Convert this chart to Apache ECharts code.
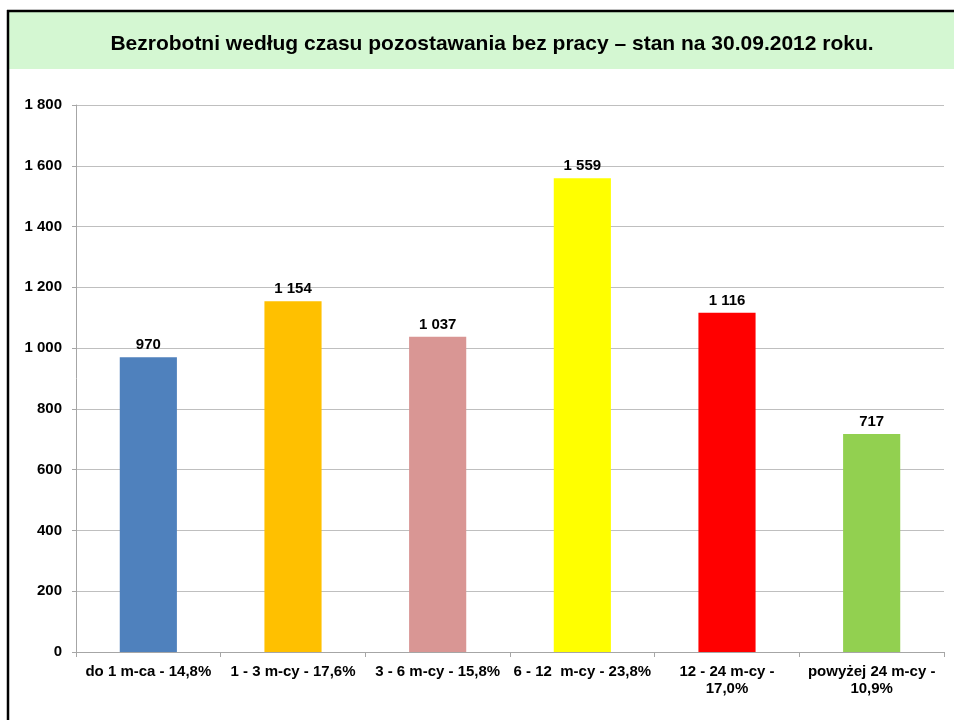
<!DOCTYPE html>
<html>
<head>
<meta charset="utf-8">
<script src="https://cdn.jsdelivr.net/npm/echarts@6/dist/echarts.min.js"></script>
<style>
html,body{margin:0;padding:0;background:#fff;}
#chart{width:954px;height:720px;}
</style>
</head>
<body>
<div id="chart"></div>
<script>
const titleText = 'Bezrobotni według czasu pozostawania bez pracy – stan na 30.09.2012 roku.';
const categories = ['do 1 m-ca - 14,8%', '1 - 3 m-cy - 17,6%', '3 - 6 m-cy - 15,8%', '6 - 12  m-cy - 23,8%', '12 - 24 m-cy -\n17,0%', 'powyżej 24 m-cy -\n10,9%'];
const values = [970, 1154, 1037, 1559, 1116, 717];
const barColors = ['#4F81BD', '#FFC000', '#D99694', '#FFFF00', '#FF0000', '#92D050'];
const yTicks = [0, 200, 400, 600, 800, 1000, 1200, 1400, 1600, 1800];

const fmt = v => String(v).replace(/\B(?=(\d{3})+(?!\d))/g, ' ');
const font = '"Liberation Sans", Arial, sans-serif';

const chart = echarts.init(document.getElementById('chart'), null, {renderer: 'canvas'});
chart.setOption({
  animation: false,
  backgroundColor: '#fff',
  textStyle: {fontFamily: font},
  graphic: [
    {type: 'rect', shape: {x: 8, y: 11, width: 946, height: 58}, style: {fill: '#D4F7D2'}, z: -10},
    {type: 'line', shape: {x1: 7, y1: 11, x2: 954, y2: 11}, style: {stroke: '#000', lineWidth: 2.5}},
    {type: 'line', shape: {x1: 8, y1: 10, x2: 8, y2: 720}, style: {stroke: '#000', lineWidth: 2.5}}
  ],
  title: {
    text: titleText,
    left: 487, textAlign: 'center', top: 29,
    textStyle: {fontFamily: font, fontWeight: 'bold', fontSize: 21, color: '#000'}
  },
  grid: {left: 76, right: 10, top: 105, bottom: 68, containLabel: false},
  xAxis: {
    type: 'category',
    data: categories,
    axisLine: {lineStyle: {color: '#A6A6A6', width: 1}},
    axisTick: {show: true, length: 5, lineStyle: {color: '#A6A6A6'}},
    axisLabel: {interval: 0, color: '#000', fontWeight: 'bold', fontSize: 15, fontFamily: font, margin: 11, lineHeight: 17}
  },
  yAxis: {
    type: 'value',
    min: yTicks[0], max: yTicks[yTicks.length - 1], interval: 200,
    axisLine: {show: true, lineStyle: {color: '#A6A6A6'}},
    axisTick: {show: true, length: 4, lineStyle: {color: '#A6A6A6'}},
    splitLine: {lineStyle: {color: '#BFBFBF', width: 1}},
    axisLabel: {color: '#000', fontWeight: 'bold', fontSize: 15, fontFamily: font, margin: 14, formatter: v => fmt(v)}
  },
  series: [{
    type: 'bar',
    data: values.map((v, i) => ({value: v, itemStyle: {color: barColors[i]}})),
    barWidth: '39.5%',
    label: {show: true, position: 'top', distance: 5, color: '#000', fontWeight: 'bold', fontSize: 15, fontFamily: font, formatter: p => fmt(p.value)}
  }]
});
</script>
</body>
</html>
